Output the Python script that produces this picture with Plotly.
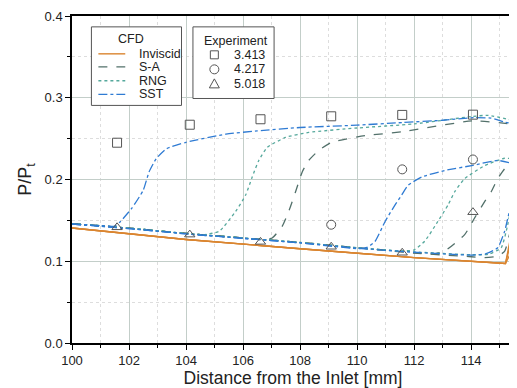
import plotly.graph_objects as go

# ---------------- data ----------------
# Inviscid (three pressure ratios, identical except at exit)
inv_x = [100, 104, 108, 112, 115.2]
inv_y = [0.1406, 0.1266, 0.1153, 0.1044, 0.0972]
inv_end_x = [115.5, 115.5, 115.5]
inv_end_y = [0.150, 0.138, 0.118]

# SST
sst1_x = [100, 101, 101.5, 101.7, 102.1, 102.5, 102.7, 102.95, 103.3, 104.0, 105.4, 106.5, 108.0, 110.0, 111.6, 113.0, 114.1, 114.7, 115.2, 115.5]
sst1_y = [0.1455, 0.1435, 0.1430, 0.1487, 0.1650, 0.1870, 0.2090, 0.2253, 0.2374, 0.2455, 0.2555, 0.2595, 0.2636, 0.2665, 0.2697, 0.2725, 0.2757, 0.2750, 0.2700, 0.2680]
sst2_x = [100, 102, 104, 106, 108, 110.0, 110.35, 110.63, 110.98, 111.33, 111.56, 111.79, 112.26, 113.07, 114.06, 114.93, 115.5]
sst2_y = [0.1455, 0.1400, 0.1335, 0.1280, 0.1225, 0.1155, 0.1170, 0.1245, 0.1487, 0.1690, 0.1810, 0.1930, 0.2030, 0.2110, 0.2173, 0.2233, 0.2190]
sst3_x = [100, 102, 104, 106, 108, 110, 112, 114.0, 114.5, 114.93, 115.17, 115.34, 115.5]
sst3_y = [0.1455, 0.1400, 0.1335, 0.1280, 0.1225, 0.1160, 0.1110, 0.1075, 0.1090, 0.1165, 0.1366, 0.1610, 0.1800]

# RNG
rng1_x = [100, 102, 104, 104.6, 105.16, 105.74, 106.09, 106.32, 106.55, 106.85, 107.49, 108.3, 110.0, 112.0, 114.0, 114.6, 115.5]
rng1_y = [0.1460, 0.1405, 0.1340, 0.1325, 0.1366, 0.1610, 0.1810, 0.2030, 0.2233, 0.2394, 0.2515, 0.2576, 0.2630, 0.2680, 0.2770, 0.2785, 0.2720]
rng2_x = [100, 102, 104, 106, 108, 110, 111.5, 112.0, 112.37, 112.83, 113.19, 113.42, 113.77, 114.47, 115.17, 115.5]
rng2_y = [0.1460, 0.1405, 0.1340, 0.1285, 0.1230, 0.1165, 0.1125, 0.1140, 0.1245, 0.1487, 0.1690, 0.1850, 0.2010, 0.2170, 0.2260, 0.2250]
rng3_x = [100, 102, 104, 106, 108, 110, 112, 114.0, 114.6, 115.05, 115.28, 115.5]
rng3_y = [0.1460, 0.1405, 0.1340, 0.1285, 0.1230, 0.1165, 0.1115, 0.1080, 0.1085, 0.1165, 0.1447, 0.1850]

# S-A
sa1_x = [100, 102, 104, 106, 106.7, 107.02, 107.37, 107.6, 107.84, 108.07, 108.3, 108.65, 109.1, 110.28, 111.58, 114.06, 115.5]
sa1_y = [0.1460, 0.1405, 0.1340, 0.1285, 0.1265, 0.1285, 0.1427, 0.1610, 0.1850, 0.2090, 0.2233, 0.2354, 0.2455, 0.2536, 0.2584, 0.2717, 0.2676]
sa2_x = [100, 102, 104, 106, 108, 110, 112, 112.7, 113.07, 113.77, 114.12, 114.47, 114.7, 114.93, 115.17, 115.4, 115.5]
sa2_y = [0.1460, 0.1405, 0.1340, 0.1285, 0.1230, 0.1165, 0.1105, 0.1090, 0.1125, 0.1326, 0.1530, 0.1729, 0.1850, 0.2010, 0.2130, 0.2210, 0.2250]
sa3_x = [100, 102, 104, 106, 108, 110, 112, 114.0, 114.47, 114.9, 115.17, 115.34, 115.5]
sa3_y = [0.1460, 0.1405, 0.1340, 0.1285, 0.1230, 0.1165, 0.1100, 0.1055, 0.1044, 0.1060, 0.1120, 0.1326, 0.1600]

# Experiment
exp_x = [101.58, 104.13, 106.61, 109.09, 111.58, 114.06]
exp_3413 = [0.2450, 0.2670, 0.2737, 0.2773, 0.2790, 0.2793]
exp_4217_x = [109.09, 111.58, 114.06]
exp_4217 = [0.1447, 0.2124, 0.2245]
exp_5018 = [0.1415, 0.1326, 0.1237, 0.1177, 0.1104, 0.1600]

# legend labels
cfd_title = "CFD"
cfd_labels = ["Inviscid", "S-A", "RNG", "SST"]
exp_title = "Experiment"
exp_labels = ["3.413", "4.217", "5.018"]

# ---------------- style ----------------
C_INV = "#DA8530"
C_SA = "#52706A"
C_RNG = "#55A89C"
C_SST = "#2F7BD3"
C_MK = "#555555"
FONT = "Liberation Sans, Arial, sans-serif"

fig = go.Figure()

def add_line(x, y, color, dash, name, width=1.3):
    fig.add_trace(go.Scatter(
        x=x, y=y, mode="lines", name=name, showlegend=False,
        line=dict(color=color, dash=dash, width=width, shape="spline", smoothing=0.5),
    ))

for i, ey in enumerate(inv_end_y):
    fig.add_trace(go.Scatter(
        x=inv_x + [inv_end_x[i]], y=inv_y + [ey], mode="lines",
        name="Inviscid", showlegend=False,
        line=dict(color=C_INV, width=1.4),
    ))

add_line(sa1_x, sa1_y, C_SA, "dash", "S-A")
add_line(sa2_x, sa2_y, C_SA, "dash", "S-A")
add_line(sa3_x, sa3_y, C_SA, "dash", "S-A")
add_line(rng1_x, rng1_y, C_RNG, "dot", "RNG")
add_line(rng2_x, rng2_y, C_RNG, "dot", "RNG")
add_line(rng3_x, rng3_y, C_RNG, "dot", "RNG")
add_line(sst1_x, sst1_y, C_SST, "dashdot", "SST")
add_line(sst2_x, sst2_y, C_SST, "dashdot", "SST")
add_line(sst3_x, sst3_y, C_SST, "dashdot", "SST")

mk = dict(color=C_MK, size=9, line=dict(color=C_MK, width=1))
fig.add_trace(go.Scatter(x=exp_x, y=exp_3413, mode="markers", name="3.413", showlegend=False,
                         marker=dict(symbol="square-open", **mk)))
fig.add_trace(go.Scatter(x=exp_4217_x, y=exp_4217, mode="markers", name="4.217", showlegend=False,
                         marker=dict(symbol="circle-open", **mk)))
fig.add_trace(go.Scatter(x=exp_x, y=exp_5018, mode="markers", name="5.018", showlegend=False,
                         marker=dict(symbol="triangle-up-open", **mk)))

axis_common = dict(
    showline=True, linecolor="black", linewidth=1.5, mirror=True,
    ticks="outside", ticklen=5, tickcolor="black", tickwidth=1.2,
    showgrid=True, gridcolor="#C3CEC9", gridwidth=1.2,
    zeroline=False, ticklabeloverflow="allow",
    tickfont=dict(family=FONT, size=13, color="#222"),
)

fig.update_xaxes(
    range=[100, 115.5], dtick=2, tick0=100,
    minor=dict(dtick=1, ticks="outside", ticklen=3, tickcolor="black",
               showgrid=True, gridcolor="#DDDDDD", griddash="dot", gridwidth=1),
    title=dict(text="Distance from the Inlet [mm]", font=dict(family=FONT, size=17.5, color="#222"), standoff=1),
    **axis_common,
)
fig.update_yaxes(
    range=[0, 0.4], dtick=0.1, tick0=0, tickformat=".1f",
    minor=dict(dtick=0.05, ticks="outside", ticklen=3, tickcolor="black",
               showgrid=True, gridcolor="#DDDDDD", griddash="dot", gridwidth=1),
    title=dict(text="P/P<sub>t</sub>", font=dict(family=FONT, size=18, color="#222"), standoff=8),
    **axis_common,
)

# ---------------- hand-built legend boxes (paper coords from pixel layout) ----------------
PL, PR, PT, PB = 72, 516, 12, 343
def pxx(px):
    return (px - PL) / (PR - PL)
def pxy(py):
    return (PB - py) / (PB - PT)

shapes = []
annotations = []
LFONT = dict(family=FONT, size=12.5, color="#222")

# CFD box
shapes.append(dict(type="rect", xref="paper", yref="paper", layer="above",
                   x0=pxx(91.5), x1=pxx(182), y0=pxy(102.5), y1=pxy(23),
                   line=dict(color="#555", width=1), fillcolor="white"))
annotations.append(dict(text=cfd_title, xref="paper", yref="paper", x=pxx(131.7), y=pxy(35.5),
                        xanchor="center", yanchor="middle", showarrow=False, font=LFONT))
cfd_styles = [(C_INV, "solid"), (C_SA, "dash"), (C_RNG, "dot"), (C_SST, "dashdot")]
cfd_rows = [50.3, 63.5, 77.5, 91.3]
for lab, (col, dsh), ry in zip(cfd_labels, cfd_styles, cfd_rows):
    shapes.append(dict(type="line", xref="paper", yref="paper", layer="above",
                       x0=pxx(98.5), x1=pxx(125.5), y0=pxy(ry), y1=pxy(ry),
                       line=dict(color=col, width=1.4, dash=dsh)))
    annotations.append(dict(text=lab, xref="paper", yref="paper", x=pxx(137.5), y=pxy(ry),
                            xanchor="left", yanchor="middle", showarrow=False, font=LFONT))

# Experiment box
shapes.append(dict(type="rect", xref="paper", yref="paper", layer="above",
                   x0=pxx(193.5), x1=pxx(275), y0=pxy(95.5), y1=pxy(23),
                   line=dict(color="#555", width=1), fillcolor="white"))
annotations.append(dict(text=exp_title, xref="paper", yref="paper", x=pxx(236.7), y=pxy(37),
                        xanchor="center", yanchor="middle", showarrow=False, font=LFONT))
exp_rows = [51.3, 66.0, 80.7]
mx = pxx(215)
for lab, ry, kind in zip(exp_labels, exp_rows, ["square", "circle", "triangle"]):
    my = pxy(ry)
    base = dict(xref="paper", yref="paper", layer="above", xsizemode="pixel", ysizemode="pixel",
                xanchor=mx, yanchor=my, line=dict(color=C_MK, width=1), fillcolor="rgba(0,0,0,0)")
    if kind == "square":
        shapes.append(dict(type="rect", x0=-4, x1=4, y0=-4, y1=4, **base))
    elif kind == "circle":
        shapes.append(dict(type="circle", x0=-4.5, x1=4.5, y0=-4.5, y1=4.5, **base))
    else:
        shapes.append(dict(type="path", path="M -5,-4 L 5,-4 L 0,5 Z", **base))
    annotations.append(dict(text=lab, xref="paper", yref="paper", x=pxx(267.5), y=my,
                            xanchor="right", yanchor="middle", showarrow=False, font=LFONT))

# the page body adds an 8px offset, so the figure is drawn 8px smaller
fig.update_layout(
    width=509, height=380,
    margin=dict(l=64, r=1, t=4, b=45),
    paper_bgcolor="white", plot_bgcolor="white",
    font=dict(family=FONT, size=13, color="#222"),
    shapes=shapes, annotations=annotations,
    showlegend=False,
)

fig.write_html("out.html")
